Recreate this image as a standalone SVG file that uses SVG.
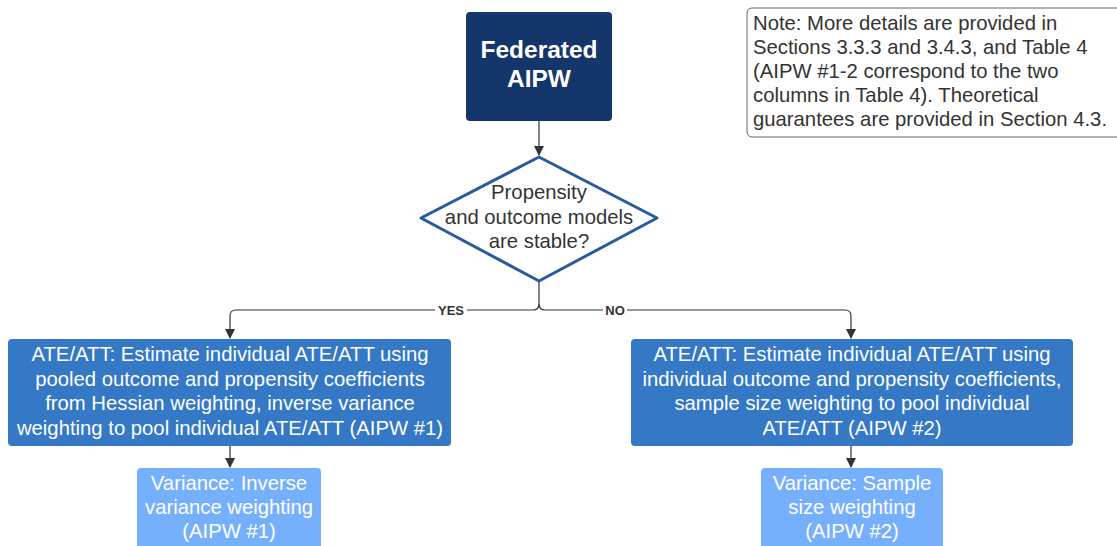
<svg xmlns="http://www.w3.org/2000/svg" width="1117" height="546" viewBox="0 0 1117 546">
<defs>
<marker id="arr" markerWidth="10" markerHeight="12" refX="9" refY="6" orient="auto" markerUnits="userSpaceOnUse">
<path d="M0,1 L10,6 L0,11 Z" fill="#333"/>
</marker>
<style>
.t{font-family:"Liberation Sans",Arial,sans-serif;font-size:20.3px;text-anchor:middle}
.w{fill:#fff}
.d{fill:#333}
.c{fill:none;stroke:#333;stroke-width:1.2}
.lbl{font-family:"Liberation Sans",Arial,sans-serif;font-size:13px;font-weight:bold;fill:#333;text-anchor:middle}
</style>
</defs>
<rect width="1117" height="546" fill="#fff"/>
<g id="connectors">
<path class="c" d="M539,121 V155" marker-end="url(#arr)"/>
<path class="c" d="M539,282 V304 Q539,310 533,310 H236 Q230,310 230,316 V338" marker-end="url(#arr)"/>
<path class="c" d="M539,304 Q539,310 545,310 H845 Q851,310 851,316 V338" marker-end="url(#arr)"/>
<path class="c" d="M230,446 V467" marker-end="url(#arr)"/>
<path class="c" d="M851,446 V467" marker-end="url(#arr)"/>
<rect x="435" y="303" width="32" height="14" fill="#fff"/>
<text class="lbl" x="451" y="315">YES</text>
<rect x="603" y="303" width="24" height="14" fill="#fff"/>
<text class="lbl" x="615" y="315">NO</text>
</g>
<g id="start">
<rect x="466" y="12" width="146" height="109" rx="4" fill="#15366a"/>
<text class="t w" x="539" y="58" style="font-size:24.5px;font-weight:bold">Federated</text>
<text class="t w" x="539" y="87" style="font-size:24.5px;font-weight:bold">AIPW</text>
</g>
<g id="decision">
<path d="M539,157 L657,218 L539,281 L421,218 Z" fill="#fff" stroke="#285a9c" stroke-width="3" stroke-linejoin="round"/>
<text class="t d" x="539" y="199">Propensity</text>
<text class="t d" x="539" y="224">and outcome models</text>
<text class="t d" x="539" y="248">are stable?</text>
</g>
<g id="yes-ate">
<rect x="8" y="339" width="443" height="107" rx="4" fill="#3478c6"/>
<text class="t w" x="230" y="361">ATE/ATT: Estimate individual ATE/ATT using</text>
<text class="t w" x="230" y="386">pooled outcome and propensity coefficients</text>
<text class="t w" x="230" y="410">from Hessian weighting, inverse variance</text>
<text class="t w" x="230" y="435">weighting to pool individual ATE/ATT (AIPW #1)</text>
</g>
<g id="no-ate">
<rect x="631" y="339" width="442" height="107" rx="4" fill="#3478c6"/>
<text class="t w" x="852" y="361">ATE/ATT: Estimate individual ATE/ATT using</text>
<text class="t w" x="852" y="386">individual outcome and propensity coefficients,</text>
<text class="t w" x="852" y="410">sample size weighting to pool individual</text>
<text class="t w" x="852" y="435">ATE/ATT (AIPW #2)</text>
</g>
<g id="yes-var">
<rect x="137" y="468" width="184" height="90" rx="4" fill="#76b0fd"/>
<text class="t w" x="229" y="490">Variance: Inverse</text>
<text class="t w" x="229" y="514">variance weighting</text>
<text class="t w" x="229" y="538">(AIPW #1)</text>
</g>
<g id="no-var">
<rect x="761" y="468" width="182" height="90" rx="4" fill="#76b0fd"/>
<text class="t w" x="852" y="490">Variance: Sample</text>
<text class="t w" x="852" y="514">size weighting</text>
<text class="t w" x="852" y="538">(AIPW #2)</text>
</g>
<g id="note">
<rect x="747" y="8" width="380" height="129" rx="5" fill="#fff" stroke="#666" stroke-width="1"/>
<text class="t d" style="text-anchor:start" x="753" y="30">Note: More details are provided in</text>
<text class="t d" style="text-anchor:start" x="753" y="54">Sections 3.3.3 and 3.4.3, and Table 4</text>
<text class="t d" style="text-anchor:start" x="753" y="78">(AIPW #1-2 correspond to the two</text>
<text class="t d" style="text-anchor:start" x="753" y="102">columns in Table 4). Theoretical</text>
<text class="t d" style="text-anchor:start" x="753" y="126">guarantees are provided in Section 4.3.</text>
</g>
</svg>
